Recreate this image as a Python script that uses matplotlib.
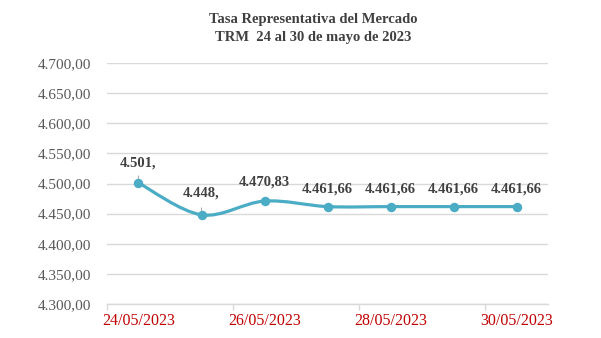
import numpy as np
import matplotlib
matplotlib.use("Agg")
import matplotlib.pyplot as plt
from matplotlib.path import Path
from matplotlib.patches import PathPatch


fechas = ["24/05/2023", "25/05/2023", "26/05/2023", "27/05/2023",
          "28/05/2023", "29/05/2023", "30/05/2023"]
trm = [4501.00, 4448.00, 4470.83, 4461.66, 4461.66, 4461.66, 4461.66]
etiquetas = ["4.501,", "4.448,", "4.470,83", "4.461,66", "4.461,66", "4.461,66", "4.461,66"]
yticks = [4300, 4350, 4400, 4450, 4500, 4550, 4600, 4650, 4700]

COLOR = "#4BACC6"
GRIS = "#595959"
FUENTE = "Liberation Serif"


def fmt_es(v):
    s = f"{v:,.2f}"
    return s.replace(",", "X").replace(".", ",").replace("X", ".")


def curva_suave(x, y):
    # linea suavizada tipo Excel (bezier cubica con tangentes catmull-rom)
    pts = np.column_stack([x, y])
    verts = [pts[0]]
    codes = [Path.MOVETO]
    n = len(pts)
    for i in range(n - 1):
        p0 = pts[i - 1] if i > 0 else pts[i]
        p1 = pts[i]
        p2 = pts[i + 1]
        p3 = pts[i + 2] if i + 2 < n else pts[i + 1]
        c1 = p1 + (p2 - p0) / 6.0
        c2 = p2 - (p3 - p1) / 6.0
        verts += [c1, c2, p2]
        codes += [Path.CURVE4] * 3
    return Path(verts, codes)


fig = plt.figure(figsize=(6.01, 3.38), dpi=100)
ax = fig.add_axes([0.178, 0.1006, 0.734, 0.713])

x = np.arange(len(trm))
ax.add_patch(PathPatch(curva_suave(x, trm), facecolor="none", edgecolor=COLOR,
                       lw=2.3, capstyle="round", zorder=3))
ax.plot(x, trm, "o", color=COLOR, ms=5.8, zorder=4)

# distancia de cada etiqueta sobre su punto (pt)
desfase = [14.5, 16, 13.7, 13, 13, 13, 13]
for i, (v, t) in enumerate(zip(trm, etiquetas)):
    if i in (0, 1):
        ax.annotate("", xy=(i, v), xytext=(0, 7), textcoords="offset points",
                    arrowprops=dict(arrowstyle="-", color="#a6a6a6", lw=0.7))
    ax.annotate(t, xy=(i, v), xytext=(0, desfase[i]), textcoords="offset points",
                ha="center", va="center", fontsize=10.5, fontweight="bold",
                color="#404040", family=FUENTE)

ax.set_xlim(-0.5, len(trm) - 0.5)
ax.set_ylim(4300, 4700)
ax.set_yticks(yticks)
ax.set_yticklabels([fmt_es(v) for v in yticks], fontsize=11, color=GRIS, family=FUENTE)
ax.set_xticks(x[::2])
ax.set_xticklabels(fechas[::2], fontsize=11.5, color="#C00000", family=FUENTE)
ax.set_xticks(np.arange(-0.5, len(trm) - 0.5, 2), minor=True)
ax.tick_params(axis="x", which="major", length=0, pad=6.5)
ax.tick_params(axis="x", which="minor", length=4, color="#d9d9d9", width=1)
ax.tick_params(axis="y", length=0, pad=11.5)

ax.grid(axis="y", color="#d9d9d9", lw=1)
ax.set_axisbelow(True)
for s in ["top", "right", "left"]:
    ax.spines[s].set_visible(False)
ax.spines["bottom"].set_color("#d9d9d9")
ax.spines["bottom"].set_linewidth(1)

fig.text(0.521, 1 - 20 / 338, "Tasa Representativa del Mercado",
         ha="center", va="center", fontsize=10.5, fontweight="bold", color="#404040",
         family=FUENTE)
fig.text(0.521, 1 - 38 / 338, "TRM  24 al 30 de mayo de 2023",
         ha="center", va="center", fontsize=10.5, fontweight="bold", color="#404040",
         family=FUENTE)

fig.savefig("out.png", dpi=100)
